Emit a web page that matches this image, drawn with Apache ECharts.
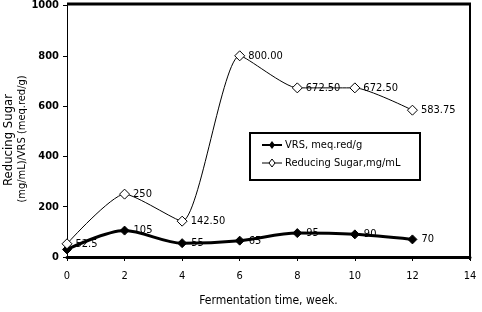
<!DOCTYPE html>
<html>
<head>
<meta charset="utf-8">
<script src="https://cdn.jsdelivr.net/npm/echarts@6/dist/echarts.min.js"></script>
<style>
  html, body { margin: 0; padding: 0; background: #fff; }
  #chart { width: 482px; height: 312px; }
</style>
</head>
<body>
<div id="chart"></div>
<script>
// weeks of fermentation
const weeks = [0, 2, 4, 6, 8, 10, 12];
// VRS, meq.red/g
const vrsValues = [30, 105, 55, 65, 95, 90, 70];
const vrsLabels = ["", "105", "55", "65", "95", "90", "70"];
// Reducing sugar, mg/mL
const sugarValues = [52.5, 250, 142.5, 800, 672.5, 672.5, 583.75];
const sugarLabels = ["52.5", "250", "142.50", "800.00", "672.50", "672.50", "583.75"];

const font = "'DejaVu Sans Condensed', 'DejaVu Sans', sans-serif";

const chart = echarts.init(document.getElementById("chart"));

function pairs(vals) {
  return weeks.map((w, i) => [w, vals[i]]);
}

const option = {
  animation: false,
  grid: { left: 67, right: 12, top: 4, bottom: 53, show: false },
  xAxis: {
    type: "value",
    min: 0,
    max: 14,
    interval: 2,
    name: "Fermentation time, week.",
    nameLocation: "middle",
    nameGap: 38,
    nameTextStyle: { fontFamily: font, fontSize: 12, color: "#000" },
    axisLine: { lineStyle: { color: "#000", width: 3 } },
    axisTick: { show: true, length: 4, lineStyle: { color: "#000" } },
    axisLabel: { fontFamily: font, fontSize: 11, color: "#000", margin: 14 },
    splitLine: { show: false }
  },
  yAxis: {
    type: "value",
    min: 0,
    max: 1000,
    interval: 200,
    axisLine: { show: true, lineStyle: { color: "#000", width: 1 } },
    axisTick: { show: true, length: 4, lineStyle: { color: "#000" } },
    axisLabel: {
      fontFamily: font, fontSize: 11, fontWeight: "bold", color: "#000", margin: 8,
      formatter: (v) => String(v)
    },
    splitLine: { show: false }
  },
  legend: { show: false },
  graphic: [
    // plot frame: top and right borders
    { type: "line", shape: { x1: 67, y1: 4, x2: 471, y2: 4 }, style: { stroke: "#000", lineWidth: 3 } },
    { type: "line", shape: { x1: 470, y1: 4, x2: 470, y2: 260 }, style: { stroke: "#000", lineWidth: 2 } },
    // y-axis title (two lines, rotated)
    {
      type: "text", x: 9, y: 140, rotation: Math.PI / 2,
      style: { text: "Reducing Sugar", font: "13px " + font, fill: "#000", align: "center", verticalAlign: "middle" }
    },
    {
      type: "text", x: 22, y: 139, rotation: Math.PI / 2,
      style: { text: "(mg/mL)/VRS (meq.red/g)", font: "11px " + font, fill: "#000", align: "center", verticalAlign: "middle" }
    },
    // legend box
    { type: "rect", shape: { x: 250, y: 133, width: 170, height: 47 }, style: { fill: "#fff", stroke: "#000", lineWidth: 2 }, z: 10 },
    { type: "line", shape: { x1: 262, y1: 145, x2: 282, y2: 145 }, style: { stroke: "#000", lineWidth: 2 }, z: 11 },
    { type: "polygon", shape: { points: [[272, 141], [275, 145], [272, 149], [269, 145]] }, style: { fill: "#000" }, z: 11 },
    { type: "text", x: 285, y: 145, style: { text: "VRS, meq.red/g", font: "11px " + font, fill: "#000", verticalAlign: "middle" }, z: 11 },
    { type: "line", shape: { x1: 262, y1: 163, x2: 282, y2: 163 }, style: { stroke: "#000", lineWidth: 1 }, z: 11 },
    { type: "polygon", shape: { points: [[272, 159], [275, 163], [272, 167], [269, 163]] }, style: { fill: "#fff", stroke: "#000", lineWidth: 1 }, z: 11 },
    { type: "text", x: 285, y: 163, style: { text: "Reducing Sugar,mg/mL", font: "11px " + font, fill: "#000", verticalAlign: "middle" }, z: 11 }
  ],
  series: [
    {
      name: "VRS, meq.red/g",
      type: "line",
      smooth: 0.3,
      data: pairs(vrsValues),
      symbol: "diamond",
      symbolSize: 9,
      lineStyle: { color: "#000", width: 3 },
      itemStyle: { color: "#000", borderColor: "#000" },
      label: {
        show: true,
        position: "right",
        distance: 4,
        fontFamily: font,
        fontSize: 11,
        color: "#000",
        formatter: (p) => vrsLabels[p.dataIndex]
      },
      z: 3
    },
    {
      name: "Reducing Sugar,mg/mL",
      type: "line",
      smooth: 0.2,
      data: pairs(sugarValues),
      symbol: "diamond",
      symbolSize: 10,
      lineStyle: { color: "#000", width: 1 },
      itemStyle: { color: "#fff", borderColor: "#000", borderWidth: 1 },
      label: {
        show: true,
        position: "right",
        distance: 3,
        fontFamily: font,
        fontSize: 11,
        color: "#000",
        formatter: (p) => sugarLabels[p.dataIndex]
      },
      z: 4
    }
  ]
};

chart.setOption(option);
</script>
</body>
</html>
